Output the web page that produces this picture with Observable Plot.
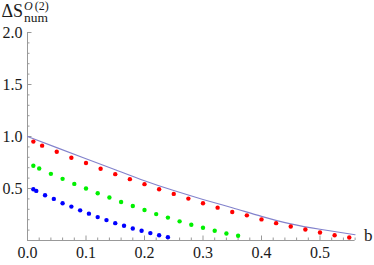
<!DOCTYPE html>
<html>
<head>
<meta charset="utf-8">
<script src="https://cdn.jsdelivr.net/npm/d3@7"></script>
<script src="https://cdn.jsdelivr.net/npm/@observablehq/plot@0.6"></script>
<style>
  html, body { margin: 0; padding: 0; background: #fff; }
  #chart svg { display: block; }
</style>
</head>
<body>
<div id="chart"></div>
<script>
// Red points (b, value)
const redB = [0.01, 0.025, 0.05, 0.075, 0.1, 0.125, 0.15, 0.175, 0.2, 0.225, 0.25, 0.275, 0.3, 0.325, 0.35, 0.375, 0.4, 0.425, 0.45, 0.475, 0.5, 0.525, 0.55];
const redV = [0.951, 0.912, 0.854, 0.796, 0.745, 0.690, 0.638, 0.590, 0.542, 0.493, 0.448, 0.403, 0.358, 0.316, 0.274, 0.242, 0.203, 0.167, 0.135, 0.106, 0.077, 0.051, 0.029];
// Green points
const greenB = [0.01, 0.02, 0.04, 0.06, 0.08, 0.10, 0.12, 0.14, 0.16, 0.18, 0.20, 0.22, 0.24, 0.26, 0.28, 0.30, 0.32, 0.34, 0.36];
const greenV = [0.719, 0.693, 0.641, 0.593, 0.544, 0.500, 0.455, 0.413, 0.370, 0.332, 0.293, 0.254, 0.220, 0.184, 0.152, 0.123, 0.094, 0.068, 0.045];
// Blue points
const blueB = [0.01, 0.015, 0.03, 0.045, 0.06, 0.075, 0.09, 0.105, 0.12, 0.135, 0.15, 0.165, 0.18, 0.195, 0.21, 0.225, 0.24];
const blueV = [0.493, 0.477, 0.435, 0.400, 0.358, 0.326, 0.290, 0.258, 0.225, 0.196, 0.167, 0.142, 0.116, 0.094, 0.071, 0.051, 0.032];
// Reference curve
const curveB = [0, 0.05, 0.1, 0.15, 0.2, 0.25, 0.3, 0.35, 0.4, 0.45, 0.5, 0.56];
const curveV = [1.0, 0.893, 0.787, 0.681, 0.575, 0.480, 0.395, 0.315, 0.232, 0.160, 0.108, 0.056];

const xTicks = [0, 0.1, 0.2, 0.3, 0.4, 0.5];
const xTickLabels = ["0.0", "0.1", "0.2", "0.3", "0.4", "0.5"];
const yTicks = [0.5, 1.0, 1.5, 2.0];
const yTickLabels = ["0.5", "1.0", "1.5", "2.0"];
const xMinor = d3.range(0, 0.5601, 0.02).filter(v => Math.abs(v * 10 - Math.round(v * 10)) > 1e-6);
const yMinor = d3.range(0.1, 2.0, 0.1).filter(v => Math.abs(v * 2 - Math.round(v * 2)) > 1e-6);

const zip = (b, v) => b.map((x, i) => ({b: x, v: v[i]}));
const red = zip(redB, redV), green = zip(greenB, greenV), blue = zip(blueB, blueV), curve = zip(curveB, curveV);

const serif = "Liberation Serif";
const axisColor = "#999";
const textColor = "#1a1a1a";
const xMax = 0.56;
const pxPerX = 585;
const yPx = 104;

const chart = Plot.plot({
  width: 374,
  height: 265,
  marginLeft: 27,
  marginRight: 374 - 27 - xMax * pxPerX,
  marginTop: 32,
  marginBottom: 25,
  x: {domain: [0, xMax], axis: null},
  y: {domain: [0, 2.0], axis: null},
  style: {background: "#fff", overflow: "visible"},
  marks: [
    Plot.ruleY([0], {stroke: axisColor, strokeWidth: 1}),
    Plot.ruleX([0], {stroke: axisColor, strokeWidth: 1}),
    Plot.ruleX(xTicks, {x: d => d, y1: 0, y2: 4.5 / yPx, stroke: axisColor}),
    Plot.ruleX(xMinor, {x: d => d, y1: 0, y2: 2.5 / yPx, stroke: axisColor}),
    Plot.ruleY(yTicks, {y: d => d, x1: 0, x2: 4.5 / pxPerX, stroke: axisColor}),
    Plot.ruleY(yMinor, {y: d => d, x1: 0, x2: 2.5 / pxPerX, stroke: axisColor}),
    Plot.text(xTicks, {x: d => d, text: (d, i) => xTickLabels[i], frameAnchor: "bottom", dy: 17, fontSize: 16, fill: textColor}),
    Plot.text(yTicks, {y: d => d, text: (d, i) => yTickLabels[i], frameAnchor: "left", dx: -5, textAnchor: "end", fontSize: 16, fill: textColor}),
    Plot.line(curve, {x: "b", y: "v", stroke: "#8282cc", strokeWidth: 1.1, curve: "natural"}),
    Plot.dot(red, {x: "b", y: "v", r: 2.2, fill: "#ff0000", stroke: "none"}),
    Plot.dot(green, {x: "b", y: "v", r: 2.2, fill: "#00f000", stroke: "none"}),
    Plot.dot(blue, {x: "b", y: "v", r: 2.2, fill: "#0000ff", stroke: "none"}),
    Plot.text(["b"], {frameAnchor: "bottom-right", dx: 9, dy: 0, textAnchor: "start", fontSize: 17, fill: textColor})
  ]
});

// y-axis title: ΔS with superscript O(2) and subscript num
const svg = d3.select(chart);
svg.append("text")
  .attr("x", 1.5).attr("y", 16.5).attr("text-anchor", "start")
  .attr("font-size", 18).attr("fill", textColor)
  .text("ΔS");
svg.append("text").attr("x", 24).attr("y", 10).attr("text-anchor", "start")
  .attr("font-size", 12).attr("fill", textColor)
  .call(s => {
    s.append("tspan").attr("font-style", "italic").text("O");
    s.append("tspan").attr("dx", 2).text("(2)");
  });
svg.append("text").attr("x", 24).attr("y", 21.5).attr("text-anchor", "start")
  .attr("font-size", 13.5).attr("fill", textColor).text("num");

// force the serif face on every text element (inline style wins over stylesheet rules)
svg.style("font-family", "'Liberation Serif', serif", "important");
svg.selectAll("g").filter(function () { return this.getAttribute("font-family"); })
  .attr("font-family", serif);
svg.selectAll("text, tspan").style("font-family", "'Liberation Serif', serif", "important");

document.getElementById("chart").appendChild(chart);
</script>
</body>
</html>
